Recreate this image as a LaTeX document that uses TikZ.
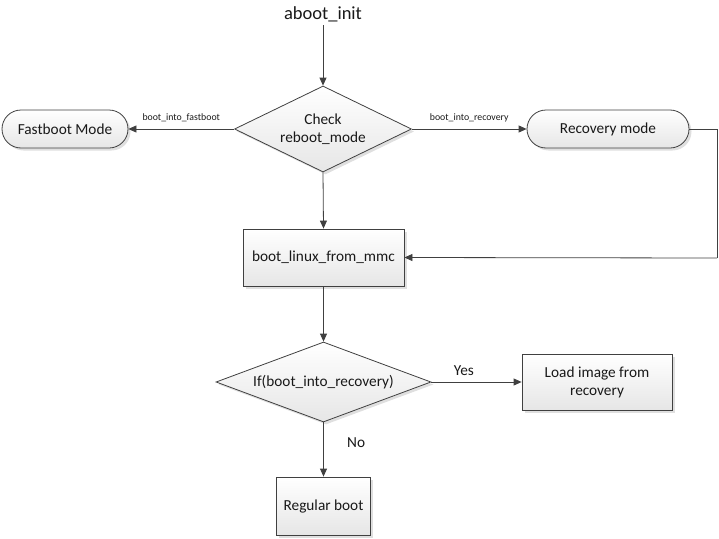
\documentclass[tikz,border=0pt]{standalone}
\usepackage{fontspec}
\setmainfont{Carlito}
\usetikzlibrary{shapes.geometric,shapes.misc,arrows.meta,shadows}
\definecolor{lc}{HTML}{404040}
\definecolor{fillb}{HTML}{E6E6E6}
\tikzset{
  base/.style={draw=lc, line width=0.8pt, top color=white, bottom color=fillb,
    drop shadow={shadow xshift=2.5pt, shadow yshift=-2.5pt, opacity=0.25, fill=gray},
    font=\fontsize{15.3}{18}\selectfont, text=black!90, align=center, inner sep=0pt},
  procbox/.style={base, rectangle},
  roundbox/.style={base, rounded rectangle},
  decbox/.style={base, diamond},
  conn/.style={draw=lc, line width=0.8pt, -{Triangle[length=8pt,width=7pt]}},
  plain/.style={draw=lc, line width=0.8pt},
  small/.style={font=\fontsize{9.8}{12}\selectfont, text=black!90},
  lab/.style={font=\fontsize{15.3}{18}\selectfont, text=black!90}
}
\begin{document}
\begin{tikzpicture}[x=1pt,y=-1pt]
\useasboundingbox (0,0) rectangle (719,538);
\node[font=\fontsize{18.5}{21}\selectfont, text=black!90] (start) at (323,14) {aboot\_init};
\node[decbox, aspect=2, minimum width=177pt, minimum height=86pt] (chk) at (323,129) {Check\\reboot\_mode};
\node[roundbox, minimum width=126pt, minimum height=38pt] (fast) at (65,129) {Fastboot Mode};
\node[roundbox, minimum width=162pt, minimum height=38pt] (rec) at (608,129) {Recovery mode};
\node[procbox, minimum width=161pt, minimum height=57pt] (mmc) at (323.5,257.5) {boot\_linux\_from\_mmc};
\node[decbox, aspect=2.7, minimum width=215pt, minimum height=80pt] (ifr) at (323.5,382) {If(boot\_into\_recovery)};
\node[procbox, minimum width=150pt, minimum height=56pt] (load) at (597,382) {Load image from\\recovery};
\node[procbox, minimum width=94pt, minimum height=58pt] (reg) at (323.5,506) {Regular boot};
\coordinate (c1) at (717,129);
\coordinate (c2) at (717,258);

\draw[conn] (start.south) -- (chk.north);
\draw[conn] (chk.west) -- node[small, above=3pt] {boot\_into\_fastboot} (fast.east);
\draw[conn] (chk.east) -- node[small, above=3pt] {boot\_into\_recovery} (rec.west);
\draw[conn] (chk.south) -- (mmc.north);
\draw[plain] (rec.east) -- (c1) -- (c2);
\draw[conn] (c2) -- (mmc.east);
\draw[conn] (mmc.south) -- (ifr.north);
\draw[conn] (ifr.east) -- node[lab, above=3pt, pos=0.36] {Yes} (load.west);
\draw[conn] (ifr.south) -- node[lab, right=20pt, pos=0.38] {No} (reg.north);
\end{tikzpicture}
\end{document}
